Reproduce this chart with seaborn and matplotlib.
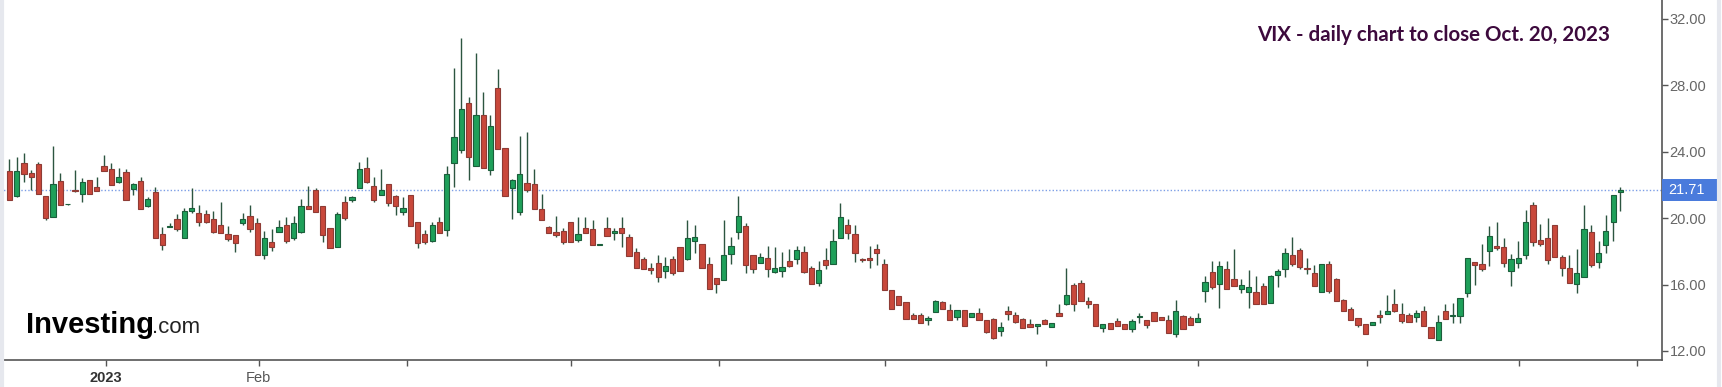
# =========================================
# VIX DAILY CANDLESTICK CHART
# =========================================

import numpy as np
import pandas as pd
import seaborn as sns
import matplotlib.pyplot as plt
from matplotlib.patches import Rectangle
from matplotlib.lines import Line2D
from matplotlib.transforms import blended_transform_factory


# =========================================
# DATA
# =========================================

opens = [
    22.87, 21.34, 23.31, 22.70, 23.25, 21.34, 20.09, 22.24, 20.83, 21.70,
    21.46, 22.30, 21.86, 23.15, 22.95, 22.16, 22.80, 21.76, 22.24, 20.75,
    21.60, 19.03, 19.47, 19.93, 18.83, 20.45, 20.30, 20.23, 19.95, 19.59,
    19.05, 18.99, 19.69, 20.15, 19.69, 17.78, 18.58, 19.19, 19.59, 18.78,
    19.15, 20.75, 21.70, 20.75, 19.39, 18.28, 20.95, 21.10, 21.80, 23.05,
    21.96, 21.40, 22.06, 21.34, 20.39, 21.40, 19.79, 19.02, 18.63, 19.78,
    19.28, 23.34, 24.10, 26.96, 23.16, 26.21, 22.90, 27.86, 24.24, 21.79,
    20.38, 22.13, 22.05, 20.58, 19.44, 19.16, 19.24, 19.78, 18.67, 19.40,
    19.32, 18.41, 19.38, 19.10, 19.40, 18.88, 17.94, 17.57, 16.97, 17.33,
    16.83, 17.53, 18.24, 17.57, 18.62, 18.42, 17.23, 16.41, 16.27, 17.82,
    19.18, 19.52, 17.78, 17.31, 17.62, 16.73, 16.83, 17.43, 17.57, 17.98,
    16.97, 16.07, 17.51, 17.27, 18.82, 19.58, 19.04, 17.53, 17.61, 18.12,
    17.23, 15.67, 15.32, 14.96, 14.16, 14.16, 13.86, 14.36, 14.96, 14.50,
    14.06, 14.50, 14.06, 14.30, 13.86, 13.90, 13.22, 14.42, 14.16, 13.90,
    13.60, 13.50, 13.86, 13.46, 14.26, 14.82, 15.97, 16.07, 15.02, 14.86,
    13.40, 13.70, 13.80, 13.60, 13.32, 14.06, 13.86, 14.32, 14.06, 13.86,
    13.05, 14.10, 14.00, 13.72, 15.61, 16.77, 16.01, 16.93, 16.31, 15.71,
    15.57, 15.53, 15.91, 14.92, 16.57, 16.91, 17.78, 18.08, 16.97, 16.71,
    15.57, 17.27, 16.31, 15.06, 14.52, 14.00, 13.60, 13.56, 14.16, 14.22,
    14.81, 14.22, 14.16, 14.02, 14.42, 13.42, 12.66, 14.40, 14.12, 14.12,
    15.47, 17.34, 17.22, 18.04, 18.32, 18.24, 16.84, 17.28, 17.78, 20.80,
    18.69, 18.79, 19.59, 17.68, 16.98, 16.03, 16.48, 19.19, 17.38, 18.40,
    19.75, 21.55,
]

highs = [
    23.55, 23.71, 23.91, 22.90, 23.41, 21.34, 24.35, 22.70, 20.85, 22.90,
    22.40, 22.30, 22.46, 23.80, 23.35, 23.00, 22.95, 22.10, 22.50, 21.30,
    21.90, 19.45, 19.70, 20.25, 20.60, 21.80, 20.80, 20.50, 20.45, 21.00,
    19.50, 18.99, 20.33, 20.80, 20.03, 19.25, 19.33, 19.89, 20.09, 20.15,
    21.16, 21.96, 21.80, 20.75, 19.39, 20.35, 21.34, 21.34, 23.41, 23.71,
    22.46, 22.95, 22.06, 21.40, 21.30, 21.40, 19.79, 19.28, 19.78, 20.08,
    23.16, 29.03, 30.83, 27.32, 29.93, 27.58, 26.21, 28.97, 24.24, 22.39,
    24.95, 25.21, 22.94, 21.45, 19.52, 20.12, 19.38, 19.78, 20.08, 20.08,
    19.88, 18.43, 20.08, 19.38, 20.05, 19.04, 18.18, 17.68, 17.31, 17.78,
    17.68, 17.72, 18.24, 19.89, 19.58, 18.42, 17.68, 16.41, 19.89, 18.88,
    21.33, 19.69, 17.78, 17.88, 18.32, 18.28, 17.98, 18.14, 18.32, 18.32,
    17.11, 17.43, 18.18, 19.32, 20.89, 19.95, 19.58, 17.63, 18.32, 18.42,
    17.57, 15.67, 15.32, 14.96, 14.30, 14.26, 14.10, 15.06, 15.00, 14.82,
    14.50, 14.50, 14.26, 14.60, 13.86, 13.96, 13.76, 14.70, 14.36, 13.96,
    13.90, 13.60, 13.90, 13.70, 14.82, 17.03, 16.11, 16.27, 15.26, 14.86,
    13.60, 13.70, 13.96, 13.60, 13.90, 14.26, 13.86, 14.32, 14.06, 14.16,
    15.06, 14.16, 14.10, 14.30, 16.51, 17.44, 17.44, 17.44, 18.14, 16.31,
    16.87, 16.51, 16.07, 16.57, 16.91, 18.18, 18.88, 18.18, 17.58, 17.17,
    17.27, 17.44, 16.37, 15.16, 14.66, 14.00, 13.60, 13.76, 14.50, 15.37,
    15.71, 14.87, 14.30, 14.46, 14.71, 13.42, 14.16, 14.81, 14.91, 15.17,
    17.62, 17.34, 18.44, 19.55, 19.79, 18.79, 17.84, 18.63, 20.50, 20.96,
    19.63, 19.99, 19.59, 17.78, 17.78, 18.12, 20.80, 19.59, 18.63, 20.19,
    21.40, 21.90,
]

lows = [
    21.10, 21.30, 22.16, 21.70, 21.46, 19.90, 20.09, 20.81, 20.81, 21.60,
    21.00, 21.46, 21.64, 22.87, 22.00, 22.10, 21.10, 21.40, 20.55, 20.70,
    18.78, 18.08, 19.45, 19.20, 18.83, 20.30, 19.50, 19.70, 19.09, 19.09,
    18.60, 17.98, 19.60, 19.19, 17.78, 17.52, 18.04, 19.19, 18.48, 18.68,
    19.09, 20.55, 20.39, 18.58, 18.22, 18.28, 19.89, 21.00, 21.80, 22.10,
    20.95, 21.40, 20.73, 20.20, 20.20, 19.55, 18.18, 18.47, 18.57, 19.08,
    18.92, 21.89, 23.90, 22.33, 23.16, 23.00, 22.59, 24.16, 21.35, 19.98,
    20.22, 21.59, 20.54, 19.88, 19.08, 18.88, 18.47, 18.57, 18.57, 19.08,
    18.37, 18.39, 18.92, 18.67, 18.28, 17.73, 17.01, 16.91, 16.63, 16.17,
    16.37, 16.57, 16.81, 17.47, 17.88, 16.97, 15.72, 15.52, 16.27, 17.27,
    18.72, 16.71, 16.71, 17.31, 16.47, 16.67, 16.47, 17.07, 17.27, 16.71,
    16.03, 15.91, 16.91, 17.27, 18.82, 18.72, 17.37, 17.37, 16.97, 17.17,
    15.67, 14.52, 14.76, 13.92, 13.92, 13.66, 13.56, 14.36, 14.56, 13.86,
    13.86, 13.50, 14.06, 13.86, 13.10, 12.75, 12.91, 13.86, 13.66, 13.36,
    13.46, 13.01, 13.60, 13.46, 14.10, 14.76, 14.40, 15.02, 14.60, 13.50,
    13.16, 13.32, 13.52, 13.32, 13.16, 13.66, 13.36, 13.80, 13.86, 13.09,
    12.85, 13.30, 13.56, 13.72, 14.96, 15.71, 14.62, 15.73, 15.91, 15.47,
    14.62, 14.82, 14.82, 14.92, 15.83, 16.43, 17.11, 16.91, 16.61, 15.91,
    15.57, 15.47, 15.02, 14.40, 13.86, 13.46, 13.01, 13.56, 13.70, 14.22,
    14.36, 13.66, 13.72, 13.72, 13.50, 12.76, 12.66, 13.92, 13.66, 13.66,
    15.23, 15.97, 16.82, 17.12, 18.08, 17.08, 15.91, 16.98, 17.54, 18.34,
    18.32, 17.24, 17.64, 16.54, 16.11, 15.47, 16.48, 17.08, 16.98, 17.88,
    18.63, 20.43,
]

closes = [
    21.10, 22.87, 22.64, 22.46, 21.46, 20.03, 22.06, 20.81, 20.83, 21.62,
    22.16, 21.46, 21.64, 22.87, 22.00, 22.50, 21.10, 22.04, 20.55, 21.15,
    18.78, 18.38, 19.55, 19.33, 20.45, 20.60, 19.80, 19.79, 19.19, 19.09,
    18.75, 18.48, 19.95, 19.35, 17.78, 18.78, 18.28, 19.45, 18.64, 19.69,
    20.75, 20.55, 20.39, 18.99, 18.22, 20.23, 19.99, 21.30, 22.95, 22.20,
    21.10, 21.70, 20.93, 20.75, 20.60, 19.55, 18.48, 18.57, 19.58, 19.12,
    22.65, 24.87, 26.57, 23.70, 26.21, 23.00, 25.57, 24.16, 21.35, 22.29,
    22.65, 21.69, 20.54, 19.88, 19.08, 18.98, 18.57, 18.57, 19.04, 19.08,
    18.37, 18.41, 18.92, 19.20, 19.08, 17.73, 17.01, 16.91, 16.87, 16.47,
    17.13, 16.71, 16.81, 18.78, 18.88, 16.97, 15.72, 16.03, 17.78, 18.32,
    20.13, 17.17, 16.93, 17.68, 16.91, 16.97, 17.07, 17.11, 18.08, 16.77,
    16.03, 16.87, 17.21, 18.62, 20.05, 19.08, 17.88, 17.51, 17.47, 17.92,
    15.67, 14.52, 14.76, 13.92, 13.92, 13.66, 13.96, 15.02, 14.56, 13.86,
    14.50, 13.50, 14.26, 13.86, 13.15, 12.81, 13.42, 14.20, 13.76, 13.36,
    13.46, 13.60, 13.60, 13.70, 14.10, 15.40, 14.86, 15.02, 14.86, 13.50,
    13.60, 13.32, 13.52, 13.32, 13.80, 14.12, 13.56, 13.80, 13.86, 13.09,
    14.42, 13.30, 13.56, 13.96, 16.13, 15.87, 17.11, 15.73, 15.91, 15.97,
    15.87, 14.82, 14.82, 16.53, 16.81, 17.88, 17.27, 17.07, 16.93, 15.91,
    17.27, 15.63, 15.02, 14.40, 13.86, 13.56, 13.01, 13.76, 14.02, 14.40,
    14.40, 13.82, 13.72, 14.26, 13.50, 12.76, 13.76, 13.92, 14.18, 15.17,
    17.62, 17.18, 16.92, 18.95, 18.18, 17.28, 17.52, 17.58, 19.79, 18.55,
    18.45, 17.48, 17.64, 17.02, 16.11, 16.68, 19.33, 17.18, 17.88, 19.25,
    21.40, 21.71,
]

month_labels = ["2023", "Feb", "", "", "", "", "", "", "", "", ""]
price_ticks = [12, 16, 20, 24, 28, 32]
chart_title = "VIX - daily chart to close Oct. 20, 2023"


# =========================================
# LAYOUT / STYLE
# =========================================

W, H = 1722, 387
PLOT_RIGHT, PLOT_BOTTOM = 1662, 360

# month boundaries, in candle index units
month_ticks = [13.3, 34.2, 54.5, 77.1, 97.4, 120.1, 142.2, 163.1, 186.2, 207.1, 223.3]

GREEN, GREEN_EDGE = "#1fa05a", "#1b5e3b"
RED, RED_EDGE = "#c9483b", "#8e3b35"
WICK = "#2c5540"
AXIS_GREY = "#555555"


# =========================================
# BUILD FRAME
# =========================================

df = pd.DataFrame({
    "open": opens,
    "high": highs,
    "low": lows,
    "close": closes,
})
df["idx"] = np.arange(len(df))
df["up"] = df["close"] >= df["open"]

sns.set_style("white")
plt.rcParams["font.family"] = ["Liberation Sans", "DejaVu Sans"]

fig = plt.figure(figsize=(W / 100, H / 100), dpi=100)
ax = fig.add_axes([0.0, (H - PLOT_BOTTOM) / H, PLOT_RIGHT / W, PLOT_BOTTOM / H])


# =========================================
# CANDLES
# =========================================

last = df["close"].iloc[-1]
ax.axhline(last, color="#7c9ee6", ls=(0, (1, 1.5)), lw=1, zorder=1)

ax.vlines(df["idx"], df["low"], df["high"], color=WICK, lw=1.0, zorder=2)

body_bottom = df[["open", "close"]].min(axis=1)
body_height = (df["close"] - df["open"]).abs().clip(lower=0.03)

ax.bar(
    df["idx"],
    body_height,
    bottom=body_bottom,
    width=0.72,
    color=np.where(df["up"], GREEN, RED),
    edgecolor=np.where(df["up"], GREEN_EDGE, RED_EDGE),
    linewidth=0.8,
    zorder=3
)


# =========================================
# AXES
# =========================================

ax.set_xlim(-1.28, 226.7)
ax.set_ylim(12 - 9 / 16.6, 12 + 351 / 16.6)

sns.despine(ax=ax, left=True, top=True, right=False, bottom=False)
for side in ["right", "bottom"]:
    ax.spines[side].set_color(AXIS_GREY)
    ax.spines[side].set_linewidth(1.2)

ax.yaxis.tick_right()
ax.set_yticks(price_ticks)
ax.set_yticklabels([f"{v:.2f}" for v in price_ticks])
ax.tick_params(axis="y", right=True, left=False, length=4, width=1,
               color=AXIS_GREY, pad=1.5, labelsize=10.5, labelcolor="#666666")

ax.set_xticks(month_ticks)
ax.set_xticklabels(month_labels)
ax.tick_params(axis="x", bottom=True, length=4, width=1,
               color=AXIS_GREY, pad=4, labelsize=10.5, labelcolor="#555555")
ax.get_xticklabels()[0].set_fontweight("bold")
ax.get_xticklabels()[0].set_color("#333333")

ax.grid(False)

# the lowest price label is cut off at the chart's bottom edge
fig.add_artist(Rectangle(((PLOT_RIGHT + 2) / W, 0), 50 / W, (H - PLOT_BOTTOM - 1) / H,
                         transform=fig.transFigure, facecolor="white",
                         edgecolor="none", zorder=5))


# =========================================
# LAST PRICE TAG
# =========================================

tag = blended_transform_factory(ax.transAxes, ax.transData)
ax.add_patch(Rectangle((1.0, last - 0.66), 58 / PLOT_RIGHT, 1.32,
                       transform=tag, clip_on=False,
                       facecolor="#4a7bdc", edgecolor="none", zorder=5))
ax.text(1.0036, last, f"{last:.2f}", transform=tag, ha="left", va="center",
        color="white", fontsize=10.5, zorder=6, clip_on=False)


# =========================================
# TEXT
# =========================================

ax.text(1610 / PLOT_RIGHT, 1 - 35 / PLOT_BOTTOM, chart_title,
        transform=ax.transAxes, ha="right", va="center",
        fontsize=14.8, fontweight="bold", color="#3d0a3d",
        family=["Lato", "DejaVu Sans"])

ax.text(26 / PLOT_RIGHT, (PLOT_BOTTOM - 333) / PLOT_BOTTOM, "Investing",
        transform=ax.transAxes, ha="left", va="baseline",
        fontsize=21, fontweight="bold", color="black")
ax.text(152 / PLOT_RIGHT, (PLOT_BOTTOM - 333) / PLOT_BOTTOM, ".com",
        transform=ax.transAxes, ha="left", va="baseline",
        fontsize=16, color="#222222")

# thin frame strips at the image edges
fig.add_artist(Line2D([0.0012, 0.0012], [0, 1], transform=fig.transFigure,
                      color="#e6e8ee", lw=3))
fig.add_artist(Line2D([0.998, 0.998], [0, 1], transform=fig.transFigure,
                      color="#e6e8ee", lw=3))

fig.savefig("out.png", dpi=100)
